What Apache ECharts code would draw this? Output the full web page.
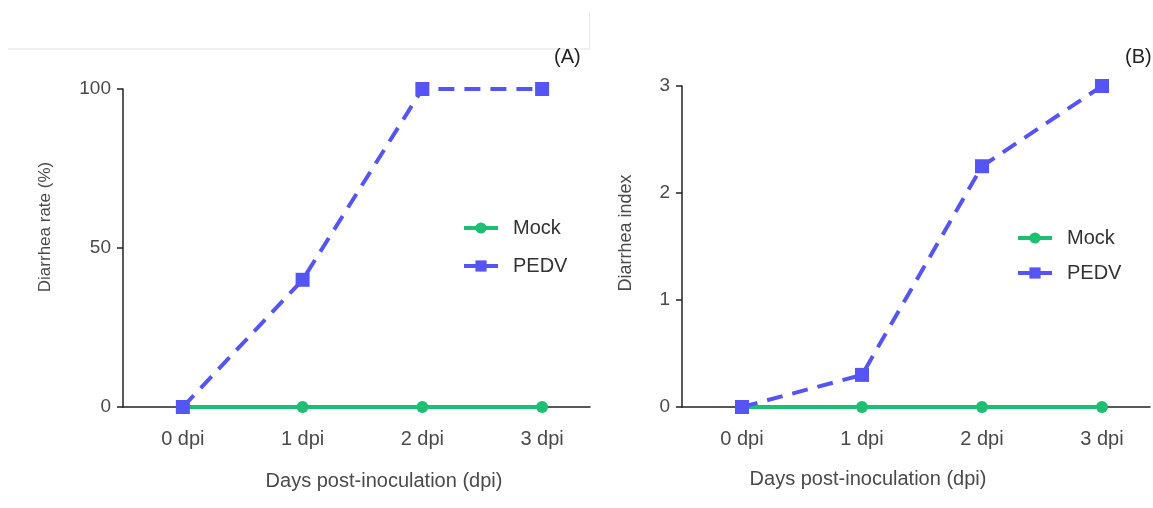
<!DOCTYPE html>
<html><head><meta charset="utf-8">
<script src="https://cdn.jsdelivr.net/npm/echarts@6/dist/echarts.min.js"></script>
<style>html,body{margin:0;padding:0;background:#fff}#c{width:1153px;height:508px}</style>
</head><body><div id="c"></div>
<script>
const categories = ['0 dpi', '1 dpi', '2 dpi', '3 dpi'];
const catIndex = [0, 1, 2, 3];
const rateMock = [0, 0, 0, 0];
const ratePEDV = [0, 40, 100, 100];
const indexMock = [0, 0, 0, 0];
const indexPEDV = [0, 0.3, 2.25, 3];
const rateTicks = [0, 50, 100];
const indexTicks = [0, 1, 2, 3];

const GREEN = '#1dbf73', BLUE = '#5555f5';
const FONT = 'Liberation Sans';
const TXT = '#4a4a4a';
const pair = (vals) => catIndex.map((x, i) => [x, vals[i]]);

function xAxis(gi) {
  return {
    type: 'value', gridIndex: gi, min: -0.5, max: 3.4,
    splitLine: { show: false },
    axisLine: { show: true, onZero: false, lineStyle: { color: '#222', width: 1.5 } },
    axisTick: { show: true, customValues: catIndex, length: 5, lineStyle: { color: '#222', width: 1.5 } },
    axisLabel: { customValues: catIndex, formatter: v => categories[Math.round(v)], color: TXT, fontSize: 20, fontFamily: FONT, margin: 22 }
  };
}
function yAxis(gi, max, interval, ticks) {
  return {
    type: 'value', gridIndex: gi, min: 0, max: max, interval: interval,
    splitLine: { show: false },
    axisLine: { show: true, onZero: false, lineStyle: { color: '#222', width: 1.5 } },
    axisTick: { show: true, customValues: ticks, length: 6, lineStyle: { color: '#222', width: 1.5 } },
    axisLabel: { customValues: ticks, color: TXT, fontSize: 19, fontFamily: FONT, margin: 12 }
  };
}
function mock(gi, data) {
  return { name: 'Mock', type: 'line', xAxisIndex: gi, yAxisIndex: gi, data: pair(data),
    symbol: 'circle', symbolSize: 12, clip: false,
    lineStyle: { color: GREEN, width: 4 }, itemStyle: { color: GREEN } };
}
function pedv(gi, data) {
  return { name: 'PEDV', type: 'line', xAxisIndex: gi, yAxisIndex: gi, data: pair(data),
    symbol: 'rect', symbolSize: 14, clip: false,
    lineStyle: { color: BLUE, width: 4, type: [16, 10] }, itemStyle: { color: BLUE } };
}
function legend(left, top, gap) {
  return { orient: 'vertical', left: left, top: top, itemWidth: 34, itemHeight: 14, itemGap: gap,
    selectedMode: false, data: ['Mock', 'PEDV'],
    lineStyle: { width: 4, type: 'solid' },
    textStyle: { color: '#333', fontSize: 20, fontFamily: FONT, padding: [0, 0, 0, 10] } };
}
function vname(text, x, y, size) {
  return { type: 'text', x: x, y: y, rotation: Math.PI / 2,
    style: { text: text, fill: TXT, font: size + 'px "' + FONT + '"', align: 'center', verticalAlign: 'middle' } };
}

const chart = echarts.init(document.getElementById('c'));
chart.setOption({
  animation: false,
  grid: [
    { left: 123, top: 89, width: 467, height: 318 },
    { left: 682, top: 86, width: 468, height: 321 }
  ],
  xAxis: [xAxis(0), xAxis(1)],
  yAxis: [yAxis(0, 100, 50, rateTicks), yAxis(1, 3, 1, indexTicks)],
  legend: [legend(457, 213, 18), legend(1011, 223, 15)],
  series: [mock(0, rateMock), pedv(0, ratePEDV), mock(1, indexMock), pedv(1, indexPEDV)],
  title: [
    { text: 'Days post-inoculation (dpi)', left: 379, top: 466, textAlign: 'center',
      textStyle: { color: TXT, fontSize: 20, fontWeight: 'normal', fontFamily: FONT } },
    { text: 'Days post-inoculation (dpi)', left: 863, top: 464, textAlign: 'center',
      textStyle: { color: TXT, fontSize: 20, fontWeight: 'normal', fontFamily: FONT } },
    { text: '(A)', left: 549, top: 42, textStyle: { color: '#222', fontSize: 20, fontWeight: 'normal', fontFamily: FONT } },
    { text: '(B)', left: 1120, top: 42, textStyle: { color: '#222', fontSize: 20, fontWeight: 'normal', fontFamily: FONT } }
  ],
  graphic: [
    { type: 'line', shape: { x1: 8, y1: 49, x2: 590, y2: 49 }, style: { stroke: '#e0e0e0', lineWidth: 1 } },
    { type: 'line', shape: { x1: 589.5, y1: 12, x2: 589.5, y2: 49 }, style: { stroke: '#e8e8e8', lineWidth: 1 } },
    vname('Diarrhea rate (%)', 45, 227, 17),
    vname('Diarrhea index', 626, 233, 18)
  ]
});
</script></body></html>
